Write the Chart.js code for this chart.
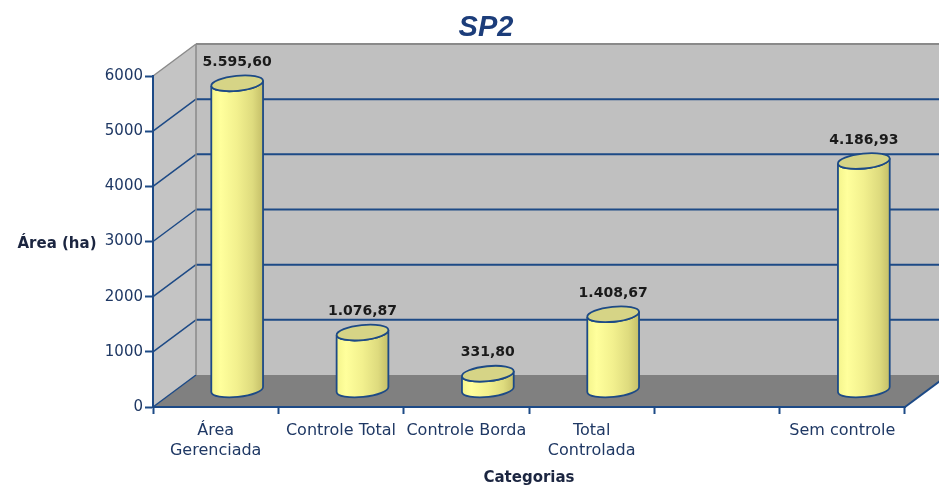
<!DOCTYPE html>
<html>
<head>
<meta charset="utf-8">
<script src="https://cdn.jsdelivr.net/npm/chart.js@4/dist/chart.umd.min.js"></script>
<style>
  body { margin: 0; background: #fff; }
  #wrap { width: 939px; height: 487px; }
</style>
</head>
<body>
<div id="wrap"><canvas id="sp2"></canvas></div>
<script>
// Chart data
let categories = [
  ['Área', 'Gerenciada'],
  'Controle Total',
  'Controle Borda',
  ['Total', 'Controlada'],
  '',
  'Sem controle',
]
let areaValues = [5595.60, 1076.87, 331.80, 1408.67, null, 4186.93]
let yTicks = [0, 1000, 2000, 3000, 4000, 5000, 6000]

// Look of the fake 3D box
let depthX = 43
let depthY = -32
let navy = '#1d4a86'
let textBlue = '#1f3864'

// 5595.6 -> "5.595,60"
let formatBR = (v) => {
  let [int, dec] = v.toFixed(2).split('.')
  return int.replace(/\B(?=(\d{3})+(?!\d))/g, '.') + ',' + dec
}

let poly = (ctx, pts) => {
  ctx.beginPath()
  pts.forEach(([x, y], i) => i ? ctx.lineTo(x, y) : ctx.moveTo(x, y))
  ctx.closePath()
}

let line = (ctx, x1, y1, x2, y2, color, w) => {
  ctx.beginPath()
  ctx.moveTo(x1, y1)
  ctx.lineTo(x2, y2)
  ctx.strokeStyle = color
  ctx.lineWidth = w
  ctx.stroke()
}

// Walls, floor, back gridlines and free texts
let boxPlugin = {
  id: 'box3d',
  beforeDraw(chart) {
    let { ctx, chartArea: a, scales: { y } } = chart
    let dx = depthX, dy = depthY
    ctx.save()
    // side wall
    ctx.fillStyle = '#c4c4c4'
    poly(ctx, [[a.left, a.top], [a.left + dx, a.top + dy], [a.left + dx, a.bottom + dy], [a.left, a.bottom]])
    ctx.fill()
    // back wall
    ctx.fillStyle = '#c0c0c0'
    ctx.fillRect(a.left + dx, a.top + dy, a.right - a.left, a.bottom - a.top)
    // floor
    ctx.fillStyle = '#808080'
    poly(ctx, [[a.left, a.bottom], [a.right, a.bottom], [a.right + dx, a.bottom + dy], [a.left + dx, a.bottom + dy]])
    ctx.fill()
    // gridlines on back and side wall
    yTicks.forEach((v) => {
      let py = y.getPixelForValue(v)
      if (v > 0 && v < 6000) {
        line(ctx, a.left + dx, py + dy, a.right + dx, py + dy, navy, 2)
      }
      if (v < 6000) {
        line(ctx, a.left, py, a.left + dx, py + dy, navy, 1.5)
      }
    })
    // grey wall edges
    line(ctx, a.left, a.top, a.left + dx, a.top + dy, '#8a8a8a', 1.5)
    line(ctx, a.left + dx, a.top + dy, a.right + dx, a.top + dy, '#8a8a8a', 2)
    line(ctx, a.left + dx, a.top + dy, a.left + dx, a.bottom + dy, '#8a8a8a', 1.5)
    // right floor edge
    line(ctx, a.right, a.bottom, a.right + dx, a.bottom + dy, navy, 2)

    // title and y axis title
    ctx.textAlign = 'center'
    ctx.textBaseline = 'middle'
    ctx.fillStyle = '#1c3d7a'
    ctx.font = 'italic bold 29px "Liberation Sans", Arial, sans-serif'
    ctx.fillText('SP2', 486, 28)
    ctx.fillStyle = '#1b2540'
    ctx.font = 'bold 15px "DejaVu Sans", sans-serif'
    ctx.fillText('Área (ha)', 57, 244)
    ctx.restore()
  }
}

// Cylinders drawn over the (invisible) bar elements
let cylinderPlugin = {
  id: 'cylinders',
  afterDatasetsDraw(chart) {
    let ctx = chart.ctx
    let meta = chart.getDatasetMeta(0)
    let rot = -0.1
    let ry = 7.5
    ctx.save()
    meta.data.forEach((bar, i) => {
      let v = areaValues[i]
      if (v === null || v === undefined) return
      let cx = bar.x + depthX / 2
      let top = bar.y + depthY / 2 + 1
      let bottom = bar.base + depthY / 2 - 1
      let rx = bar.width / 2

      let grad = ctx.createLinearGradient(cx - rx, 0, cx + rx, 0)
      grad.addColorStop(0, '#f4f48c')
      grad.addColorStop(0.18, '#ffff9c')
      grad.addColorStop(0.5, '#f2f08e')
      grad.addColorStop(0.8, '#dedb7e')
      grad.addColorStop(1, '#c4be68')

      // body
      ctx.beginPath()
      ctx.ellipse(cx, bottom, rx, ry, rot, Math.PI, 0, true)
      ctx.ellipse(cx, top, rx, ry, rot, 0, Math.PI, false)
      ctx.closePath()
      ctx.fillStyle = grad
      ctx.fill()
      ctx.strokeStyle = navy
      ctx.lineWidth = 1.8
      ctx.stroke()

      // top cap
      ctx.beginPath()
      ctx.ellipse(cx, top, rx, ry, rot, 0, Math.PI * 2)
      ctx.fillStyle = '#d6d486'
      ctx.fill()
      ctx.stroke()

      // value label
      ctx.fillStyle = '#1a1a1a'
      ctx.font = 'bold 14px "DejaVu Sans", sans-serif'
      ctx.textAlign = 'center'
      ctx.textBaseline = 'middle'
      ctx.fillText(formatBR(v), cx, top - 21)
    })
    ctx.restore()
  }
}

let chart = new Chart(document.getElementById('sp2'), {
  type: 'bar',
  data: {
    labels: categories,
    datasets: [{
      label: 'Área (ha)',
      data: areaValues,
      backgroundColor: 'rgba(0,0,0,0)',
      borderWidth: 0,
      barPercentage: 0.415,
      categoryPercentage: 1,
    }]
  },
  options: {
    responsive: true,
    maintainAspectRatio: false,
    animation: false,
    layout: { padding: { top: 76, right: 34, left: 0, bottom: 0 } },
    plugins: {
      legend: { display: false },
      tooltip: { enabled: false },
      title: { display: false },
    },
    scales: {
      x: {
        afterFit: (scale) => { scale.height = 80 },
        grid: {
          offset: true,
          drawOnChartArea: false,
          tickLength: 7,
          tickWidth: 2,
          tickColor: navy,
        },
        border: { color: navy, width: 2 },
        ticks: {
          color: textBlue,
          font: { family: '"DejaVu Sans", sans-serif', size: 16, lineHeight: 1.25 },
          padding: 7,
          maxRotation: 0,
          autoSkip: false,
        },
        title: {
          display: true,
          text: 'Categorias',
          color: '#1b2540',
          font: { family: '"DejaVu Sans", sans-serif', size: 15, weight: 'bold', lineHeight: 1.2 },
          padding: { top: 0, bottom: 0 },
        },
      },
      y: {
        min: 0,
        max: 6000,
        afterFit: (scale) => { scale.width = 153 },
        afterBuildTicks: (scale) => { scale.ticks = yTicks.map((v) => ({ value: v })) },
        grid: {
          drawOnChartArea: false,
          tickLength: 8,
          tickWidth: 2,
          tickColor: navy,
        },
        border: { color: navy, width: 2 },
        ticks: {
          color: textBlue,
          font: { family: '"DejaVu Sans", sans-serif', size: 15 },
          padding: 2,
          callback: (v) => String(v),
        },
      },
    },
  },
  plugins: [boxPlugin, cylinderPlugin],
})
</script>
</body>
</html>
